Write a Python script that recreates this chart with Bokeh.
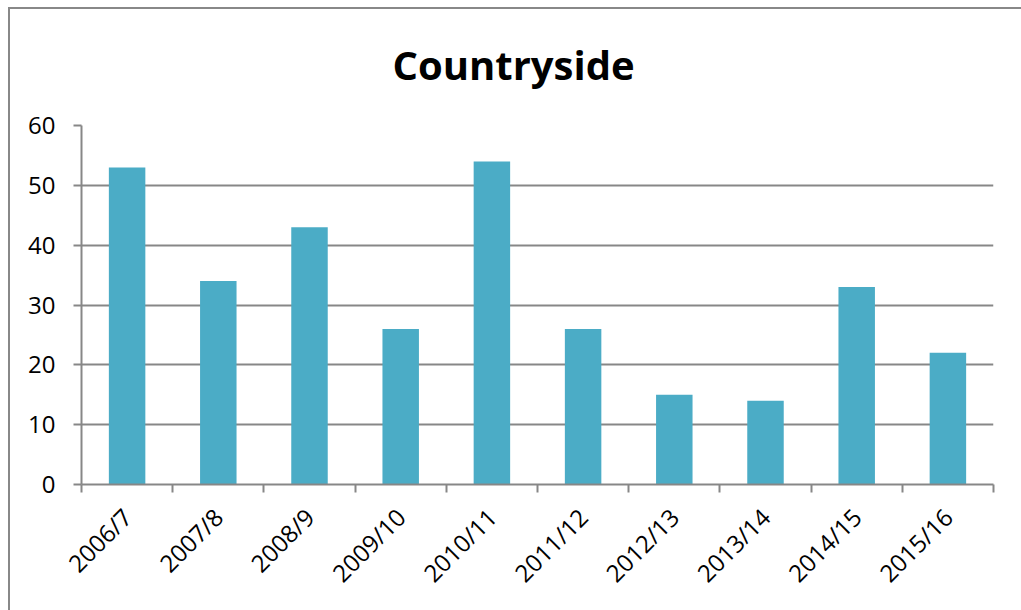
from bokeh.plotting import figure
from bokeh.models import FixedTicker, Range1d
from bokeh.embed import file_html
from bokeh.resources import INLINE
from math import pi

categories = ["2006/7", "2007/8", "2008/9", "2009/10", "2010/11",
              "2011/12", "2012/13", "2013/14", "2014/15", "2015/16"]
values = [53, 34, 43, 26, 54, 26, 15, 14, 33, 22]
title_text = "Countryside"
y_ticks = [0, 10, 20, 30, 40, 50, 60]

FONT = "Open Sans"
BAR = "#4BACC6"
GRAY = "#878787"

xs = [i + 0.5 for i in range(len(categories))]

p = figure(width=1021, height=610, output_backend="svg", toolbar_location=None,
           x_range=Range1d(0, len(categories)), y_range=Range1d(0, 60),
           min_border_left=81, min_border_right=28, min_border_top=125, min_border_bottom=126,
           title=title_text)
p.outline_line_color = None
p.border_fill_color = None
p.background_fill_color = "#ffffff"
p.styles = {
    "background-color": "#ffffff",
    "background-image": "linear-gradient(#888888,#888888), linear-gradient(#888888,#888888)",
    "background-size": "2px 100%, 100% 2px",
    "background-position": "8px 7px, 8px 7px",
    "background-repeat": "no-repeat",
}

p.title.align = "left"
p.title.offset = 311
p.title.vertical_align = "top"
p.title.text_font = FONT
p.title.text_font_style = "bold"
p.title.text_font_size = "40px"
p.title.text_color = "#000000"
p.title.standoff = 64

p.vbar(x=xs, top=values, width=0.4, color=BAR, line_color=None)

# x axis
p.xaxis.ticker = FixedTicker(ticks=xs, minor_ticks=list(range(len(categories) + 1)))
p.xaxis.major_label_overrides = {x: c for x, c in zip(xs, categories)}
p.xaxis.major_tick_line_color = None
p.xaxis.minor_tick_in = 0
p.xaxis.minor_tick_out = 8
p.xaxis.minor_tick_line_color = GRAY
p.xaxis.minor_tick_line_width = 2
p.xaxis.major_label_orientation = pi / 4
p.xaxis.major_label_standoff = 20
p.xaxis.axis_line_color = GRAY
p.xaxis.axis_line_width = 2
p.xaxis.major_label_text_font = FONT
p.xaxis.major_label_text_font_size = "24px"
p.xaxis.major_label_text_color = "#000000"

# y axis
p.yaxis.ticker = FixedTicker(ticks=y_ticks)
p.yaxis.minor_tick_line_color = None
p.yaxis.major_tick_in = 0
p.yaxis.major_tick_out = 8
p.yaxis.major_tick_line_color = GRAY
p.yaxis.major_tick_line_width = 2
p.yaxis.axis_line_color = GRAY
p.yaxis.axis_line_width = 2
p.yaxis.major_label_standoff = 18
p.yaxis.major_label_text_font = FONT
p.yaxis.major_label_text_font_size = "24px"
p.yaxis.major_label_text_color = "#000000"

p.xgrid.grid_line_color = None
p.ygrid.ticker = FixedTicker(ticks=y_ticks)
p.ygrid.grid_line_color = GRAY
p.ygrid.grid_line_width = 2

open("out.html", "w").write(file_html(p, INLINE))
